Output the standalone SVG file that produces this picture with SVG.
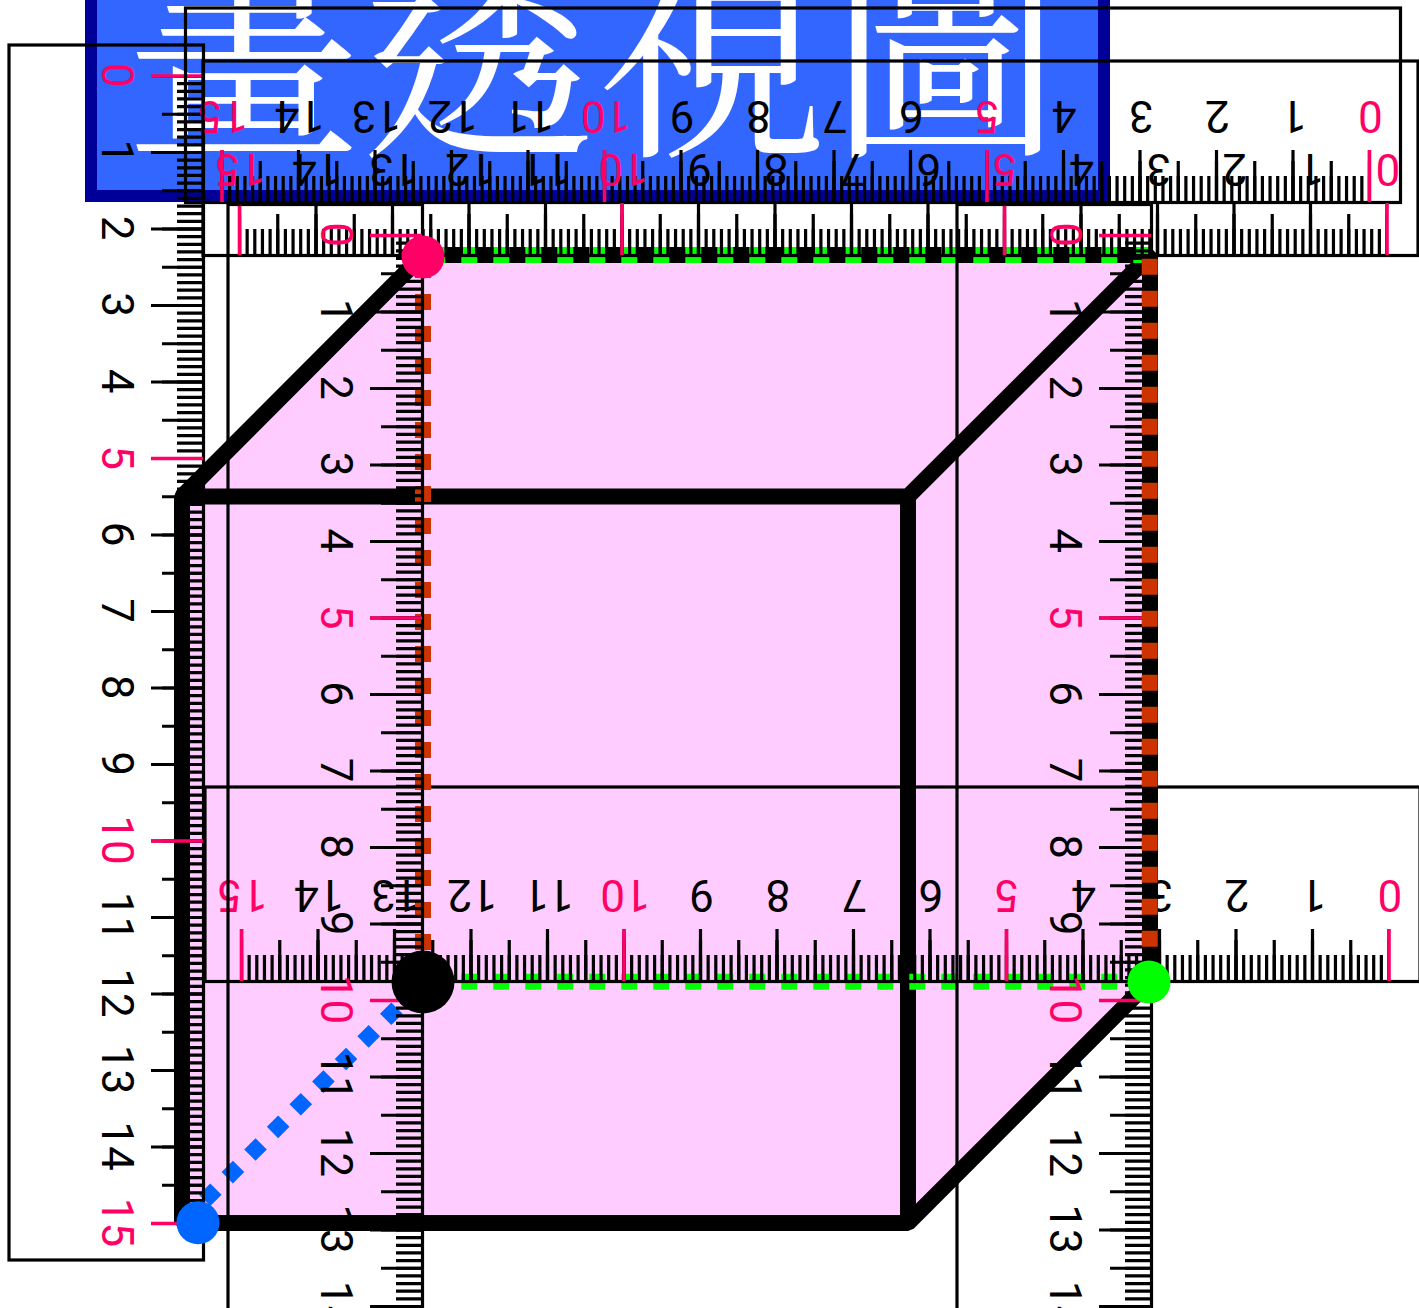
<svg xmlns="http://www.w3.org/2000/svg" width="1419" height="1308" viewBox="0 0 1419 1308">
<style>
.frame{fill:none;stroke:#000;stroke-width:3.2}
.t{stroke:#000;fill:none}
.hot{stroke:#ff0066;stroke-width:3.6;fill:none}
.n{font-family:Roboto,"Liberation Sans",sans-serif;font-size:44px;text-anchor:middle;fill:#000}
.r{fill:#ff0066}
.edge{fill:none;stroke:#000;stroke-width:16;stroke-linejoin:bevel}
.d{fill:none;stroke-width:16;stroke-dasharray:16 16}
</style>
<defs>
<g id="ruler">
<rect class="frame" width="194.5" height="1215"/>
<path class="t" d="M181,31V1180" style="stroke-width:26;stroke-dasharray:3.2 4.45;stroke-dashoffset:1.6"/>
<path class="t" d="M173.5,31V1180" style="stroke-width:41;stroke-dasharray:3.2 35.05;stroke-dashoffset:1.6"/>
<path class="t" d="M168,31V1180" style="stroke-width:52;stroke-dasharray:3.2 73.3;stroke-dashoffset:1.6"/>
<path class="hot" d="M142,31H194M142,413.5H194M142,796H194M142,1178.5H194"/>
<text class="n r" transform="translate(93,30) rotate(90)">0</text>
<text class="n" transform="translate(93,106.5) rotate(90)">1</text>
<text class="n" transform="translate(93,183) rotate(90)">2</text>
<text class="n" transform="translate(93,259.5) rotate(90)">3</text>
<text class="n" transform="translate(93,336) rotate(90)">4</text>
<text class="n r" transform="translate(93,412.5) rotate(90)">5</text>
<text class="n" transform="translate(93,489) rotate(90)">6</text>
<text class="n" transform="translate(93,565.5) rotate(90)">7</text>
<text class="n" transform="translate(93,642) rotate(90)">8</text>
<text class="n" transform="translate(93,718.5) rotate(90)">9</text>
<text class="n r" transform="translate(93,795) rotate(90)">10</text>
<text class="n" transform="translate(93,871.5) rotate(90)">11</text>
<text class="n" transform="translate(93,948) rotate(90)">12</text>
<text class="n" transform="translate(93,1024.5) rotate(90)">13</text>
<text class="n" transform="translate(93,1101) rotate(90)">14</text>
<text class="n r" transform="translate(93,1177.5) rotate(90)">15</text>
</g>
</defs>
<g id="title">
<rect x="91" y="-60" width="1013" height="256" fill="#3366ff" stroke="#000099" stroke-width="12"/>
<text x="127" y="139" font-size="234" font-weight="400" fill="#fff" font-family="'Noto Serif CJK TC','AR PL UMing TW','IPAMincho','Noto Sans CJK TC',serif">畫透視圖</text>
</g>
<g id="cube">
<polygon class="edge" style="fill:#ffccff" points="182,496.5 423,255 1150,255 1150,981 908,1223 182,1223"/>
<path class="edge" d="M182,496.5H908V1223M908,496.5L1150,255"/>
</g>
<g id="hidden-edges">
<path class="d" stroke="#0066ff" d="M182,1223L423,982"/>
<path class="d" stroke="#00ff00" d="M1149.3,255H423M1149.3,981.7H423"/>
</g>
<g id="ruler-left"><use href="#ruler" transform="translate(9,45)"/></g>
<g id="ruler-top-1"><use href="#ruler" transform="translate(1400.5,8) rotate(90)"/></g>
<g id="ruler-top-2"><use href="#ruler" transform="translate(1418,61) rotate(90)"/></g>
<g id="ruler-bottom"><use href="#ruler" transform="translate(1420,787) rotate(90)"/></g>
<g id="ruler-right"><use href="#ruler" transform="translate(957,204.5)"/></g>
<g id="hidden-right">
<path class="edge" d="M1150,255V981"/>
<path class="d" stroke="#cc3300" d="M1149.7,258.7V981M423,262V982"/>
</g>
<g id="ruler-mid"><use href="#ruler" transform="translate(228,204.5)"/></g>
<g id="point-red"><circle cx="423" cy="257" r="21.5" fill="#ff0066"/></g>
<g id="point-black"><circle cx="423" cy="982" r="31.5" fill="#000"/></g>
<g id="point-green"><circle cx="1149" cy="982" r="21.5" fill="#00ff00"/></g>
<g id="point-blue"><circle cx="198" cy="1222.7" r="21.5" fill="#0066ff"/></g>
</svg>
